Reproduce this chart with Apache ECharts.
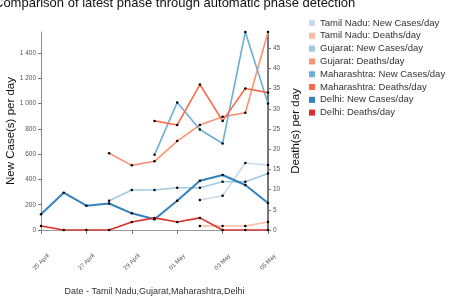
<!DOCTYPE html>
<html>
<head>
<meta charset="utf-8">
<script src="https://cdn.jsdelivr.net/npm/echarts@6/dist/echarts.min.js"></script>
<style>
  html, body { margin: 0; padding: 0; background: #fff; }
  #chart { width: 449px; height: 296px; }
</style>
</head>
<body>
<div id="chart"></div>
<script>
  var dates = ['25 April', '26 April', '27 April', '28 April', '29 April', '30 April',
               '01 May', '02 May', '03 May', '04 May', '05 May'];

  // new cases/day (left axis)
  var tnCases = ['-', '-', '-', '-', '-', '-', '-', 237, 271, 530, 514];
  var gjCases = ['-', '-', '-', 232, 316, 316, 334, 334, 382, 382, 448];
  var mhCases = ['-', '-', '-', '-', '-', 595, 1009, 795, 685, 1567, 1001];
  var dlCases = [125, 295, 192, 210, 132, 85, 232, 390, 435, 356, 214];

  // deaths/day (right axis)
  var tnDeaths = ['-', '-', '-', '-', '-', '-', '-', 1, 1, 1, 2];
  var gjDeaths = ['-', '-', '-', 19, 16, 17, 22, 26, 28, 29, 49];
  var mhDeaths = ['-', '-', '-', '-', '-', 27, 26, 36, 27, 35, 34];
  var dlDeaths = [1, 0, 0, 0, 2, 3, 2, 3, 0, 0, 0];

  var names = ['Tamil Nadu: New Cases/day', 'Tamil Nadu: Deaths/day',
               'Gujarat: New Cases/day', 'Gujarat: Deaths/day',
               'Maharashtra: New Cases/day', 'Maharashtra: Deaths/day',
               'Delhi: New Cases/day', 'Delhi: Deaths/day'];
  var colors = ['#c6dbef', '#fcbba1', '#9ecae1', '#fc9272',
                '#6baed6', '#fb6a4a', '#3182bd', '#de2d26'];
  var values = [tnCases, tnDeaths, gjCases, gjDeaths, mhCases, mhDeaths, dlCases, dlDeaths];

  function thousands(v) {
    return String(v).replace(/\B(?=(\d{3})+$)/g, ' ');
  }

  var series = names.map(function (n, i) {
    return {
      name: n,
      type: 'line',
      yAxisIndex: i % 2,
      data: values[i],
      symbol: 'circle',
      symbolSize: 2.5,
      itemStyle: { color: '#000' },
      lineStyle: { color: colors[i], width: i == 6 ? 2 : 1.6 },
      emphasis: { disabled: true },
      animation: false
    };
  });

  var myChart = echarts.init(document.getElementById('chart'));
  var option = {
    animation: false,
    title: {
      text: 'Comparison of latest phase through automatic phase detection',
      left: -11,
      top: -8,
      textStyle: { fontFamily: 'Liberation Sans', fontSize: 13, fontWeight: 'normal', color: '#111' }
    },
    legend: {
      orient: 'vertical',
      left: 304,
      top: 13,
      itemWidth: 6,
      itemHeight: 6,
      itemGap: 2.8,
      icon: 'rect',
      textStyle: { fontFamily: 'Liberation Sans', fontSize: 9.5, color: '#333', lineHeight: 10 },
      data: names.map(function (n, i) {
        return { name: n, itemStyle: { color: colors[i] } };
      })
    },
    grid: { left: 41, right: 181, top: 32, bottom: 66, outerBoundsMode: 'none', containLabel: false },
    xAxis: {
      type: 'category',
      data: dates,
      boundaryGap: false,
      name: 'Date - Tamil Nadu,Gujarat,Maharashtra,Delhi',
      nameLocation: 'middle',
      nameGap: 57,
      nameMoveOverlap: false,
      nameTextStyle: { fontFamily: 'Liberation Sans', fontSize: 9, color: '#333' },
      axisLine: { lineStyle: { color: '#999', width: 1 } },
      axisTick: { interval: 1, length: 4, lineStyle: { color: '#777' } },
      axisLabel: {
        interval: 1, rotate: 45, align: 'center', verticalAlign: 'middle', margin: 32,
        fontFamily: 'Liberation Sans', fontSize: 6, color: '#555'
      }
    },
    yAxis: [{
      type: 'value',
      min: 0,
      max: 'dataMax',
      interval: 200,
      name: 'New Case(s) per day',
      nameLocation: 'middle',
      nameGap: 24,
      nameMoveOverlap: false,
      nameTextStyle: { fontFamily: 'Liberation Sans', fontSize: 11.5, color: '#111' },
      axisLine: { show: true, lineStyle: { color: '#888', width: 1 } },
      axisTick: { show: true, length: 3, lineStyle: { color: '#777' } },
      axisLabel: {
        showMaxLabel: false, margin: 5,
        fontFamily: 'Liberation Sans', fontSize: 6.5, color: '#555',
        formatter: thousands
      },
      splitLine: { show: false }
    }, {
      type: 'value',
      min: 0,
      max: 'dataMax',
      interval: 5,
      position: 'right',
      name: 'Death(s) per day',
      nameLocation: 'middle',
      nameGap: 22,
      nameMoveOverlap: false,
      nameTextStyle: { fontFamily: 'Liberation Sans', fontSize: 11.5, color: '#111' },
      axisLine: { show: true, lineStyle: { color: '#777', width: 2 } },
      axisTick: { show: true, length: 3, lineStyle: { color: '#777' } },
      axisLabel: {
        showMaxLabel: false, margin: 5,
        fontFamily: 'Liberation Sans', fontSize: 6.5, color: '#555'
      },
      splitLine: { show: false }
    }],
    series: series
  };
  myChart.setOption(option);
</script>
</body>
</html>
